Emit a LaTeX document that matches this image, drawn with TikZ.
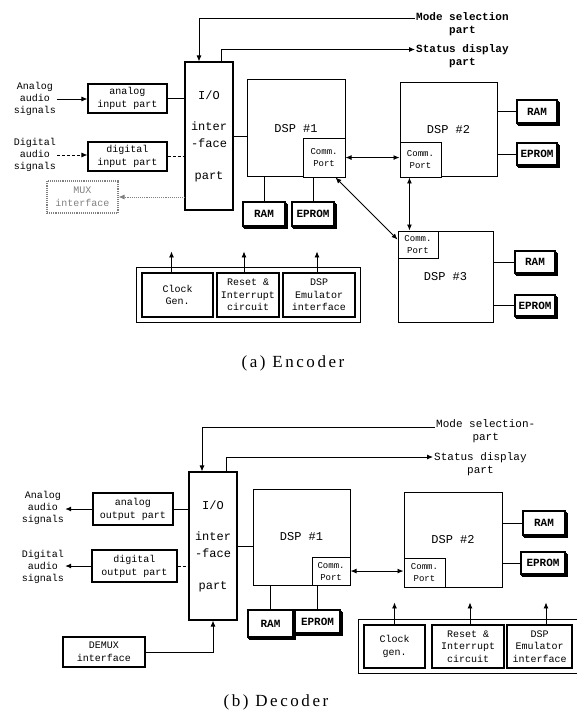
\documentclass[tikz,border=0pt]{standalone}
\usepackage{fontspec}
\setmonofont{Liberation Mono}
\newfontfamily\capfont[LetterSpace=15]{Liberation Serif}
\usetikzlibrary{shadows,fit,arrows.meta}

\tikzset{
  blk/.style={draw, line width=1.1pt, align=center, inner sep=1pt, font=\fontsize{10}{13}\selectfont\ttfamily},
  io/.style={draw, line width=1.1pt, minimum width=48pt, minimum height=148pt, align=center, font=\fontsize{12}{17}\selectfont\ttfamily},
  dsp/.style={draw, line width=1pt, font=\fontsize{12}{14}\selectfont\ttfamily},
  port/.style={draw, line width=0.9pt, fill=white, align=center, inner sep=1pt, font=\fontsize{9}{12}\selectfont\ttfamily},
  mem/.style={draw, line width=1.1pt, fill=white, inner sep=1pt, double copy shadow={shadow xshift=1pt, shadow yshift=-1.3pt}, font=\fontsize{11}{13}\selectfont\ttfamily\bfseries},
  ctl/.style={blk, minimum height=44pt, font=\fontsize{10}{12.5}\selectfont\ttfamily},
  brd/.style={draw, line width=1pt, inner sep=5pt},
  sig/.style={align=center, inner sep=1pt, font=\fontsize{10}{12}\selectfont\ttfamily},
  lbl/.style={align=center, inner sep=1pt, font=\fontsize{11}{13}\selectfont\ttfamily},
  captxt/.style={font=\capfont\fontsize{17}{20}\selectfont},
}

\begin{document}
\begin{tikzpicture}[x=1pt, y=-1pt, >={Latex[length=6pt,width=5pt]}]
  \useasboundingbox (0,0) rectangle (577,714);

  % ---------- (a) Encoder ----------
  % I/O interface part
  \node[io] (io1) at (209,136) {I/O\\[14pt]inter\\-face\\[15pt]part};

  % Input parts and signals
  \node[blk, minimum width=79pt, minimum height=29pt] (an1) at (127.5,98.5) {analog\\input part};
  \node[blk, minimum width=79pt, minimum height=29pt] (dg1) at (127.5,156.5) {digital\\input part};
  \node[blk, densely dotted, gray, minimum width=71pt, minimum height=32pt] (mux1) at (82.5,197) {MUX\\interface};
  \node[sig] (asig1) at (35,99) {Analog\\audio\\signals};
  \node[sig] (dsig1) at (35,155) {Digital\\audio\\signals};

  \draw[->, line width=0.9pt] (asig1.east) -- (asig1.east -| an1.west);
  \draw[->, densely dashed, line width=0.9pt] (dsig1.east) -- (dsig1.east -| dg1.west);
  \draw[line width=0.9pt] (an1.east) -- (an1.east -| io1.west);
  \draw[densely dashed, line width=0.9pt] (dg1.east) -- (dg1.east -| io1.west);
  \draw[->, densely dotted, gray, line width=0.9pt] (mux1.east -| io1.west) -- (mux1.east);

  % Mode selection and status display
  \node[lbl, anchor=west, font=\fontsize{11}{13}\selectfont\ttfamily\bfseries] (mode1) at (415,24) {Mode selection\\part};
  \node[lbl, anchor=west, font=\fontsize{11}{13}\selectfont\ttfamily\bfseries] (stat1) at (415,56) {Status display\\part};
  \draw[<-, line width=0.9pt] ([xshift=-10pt]io1.north) |- ([yshift=6pt]mode1.west);
  \draw[->, line width=0.9pt] ([xshift=12pt]io1.north) |- ([yshift=6.5pt]stat1.west);

  % DSPs with comm. ports
  \node[dsp, minimum width=98pt, minimum height=97pt] (dsp1) at (296,128.5) {DSP \#1};
  \node[port, anchor=south east, minimum width=42pt, minimum height=39pt] (cp1) at (dsp1.south east) {Comm.\\Port};
  \node[dsp, minimum width=97pt, minimum height=94pt] (dsp2) at (448.5,130) {DSP \#2};
  \node[port, anchor=south west, minimum width=41pt, minimum height=35pt] (cp2) at (dsp2.south west) {Comm.\\Port};
  \node[dsp, minimum width=95pt, minimum height=91pt] (dsp3) at (445.5,276.5) {DSP \#3};
  \node[port, anchor=north west, minimum width=40pt, minimum height=27pt] (cp3) at (dsp3.north west) {Comm.\\Port};

  \draw[line width=0.9pt] (io1.east) -- (io1.east -| dsp1.west);
  \draw[<->, line width=0.9pt] (cp1.east) -- (cp1.east -| cp2.west);
  \draw[<->, line width=0.9pt] ([xshift=-11pt]cp2.south) -- ([xshift=-11pt]cp2.south |- cp3.north);
  \draw[<->, line width=0.9pt] ([xshift=-10pt]cp1.south east) -- ([yshift=-9pt]cp3.north west);

  % Memories
  \node[mem, minimum width=42pt, minimum height=24pt] (ram1) at (264,214) {RAM};
  \node[mem, minimum width=42pt, minimum height=24pt] (ep1) at (313,214) {EPROM};
  \node[mem, minimum width=40pt, minimum height=23pt] (ram2) at (537,111.5) {RAM};
  \node[mem, minimum width=40pt, minimum height=22pt] (ep2) at (537,154) {EPROM};
  \node[mem, minimum width=40pt, minimum height=22pt] (ram3) at (535,262) {RAM};
  \node[mem, minimum width=40pt, minimum height=21pt] (ep3) at (535,305.5) {EPROM};

  \draw[line width=0.9pt] (ram1.north) -- (ram1.north |- dsp1.south);
  \draw[line width=0.9pt] (ep1.north) -- (ep1.north |- cp1.south);
  \draw[line width=0.9pt] (ram2.west) -- (ram2.west -| dsp2.east);
  \draw[line width=0.9pt] (ep2.west) -- (ep2.west -| dsp2.east);
  \draw[line width=0.9pt] (ram3.west) -- (ram3.west -| dsp3.east);
  \draw[line width=0.9pt] (ep3.west) -- (ep3.west -| dsp3.east);

  % Clock, reset and emulator board
  \node[ctl, minimum width=71pt] (clk1) at (177.5,295) {Clock\\Gen.};
  \node[ctl, minimum width=62pt] (rst1) at (248,295) {Reset \&\\Interrupt\\circuit};
  \node[ctl, minimum width=72pt] (emu1) at (319,295) {DSP\\Emulator\\interface};
  \node[brd, fit=(clk1)(rst1)(emu1)] (brd1) {};
  \draw[->, line width=0.9pt] ([xshift=-6pt]clk1.north) -- ++(0,-21);
  \draw[->, line width=0.9pt] ([xshift=-4pt]rst1.north) -- ++(0,-21);
  \draw[->, line width=0.9pt] ([xshift=-2pt]emu1.north) -- ++(0,-21);

  \node[captxt] (capa) at (293,363) {(a) Encoder};

  % ---------- (b) Decoder ----------
  % I/O interface part
  \node[io] (io2) at (213,546) {I/O\\[14pt]inter\\-face\\[15pt]part};

  % Output parts and signals
  \node[blk, minimum width=80pt, minimum height=32pt] (an2) at (133,509) {analog\\output part};
  \node[blk, minimum width=85pt, minimum height=32pt] (dg2) at (134.5,566) {digital\\output part};
  \node[blk, minimum width=82pt, minimum height=30pt] (demux2) at (104,652) {DEMUX\\interface};
  \node[sig] (asig2) at (43,508) {Analog\\audio\\signals};
  \node[sig] (dsig2) at (43,567) {Digital\\audio\\signals};

  \draw[->, line width=0.9pt] (an2.west) -- (an2.west -| asig2.east);
  \draw[->, line width=0.9pt] (dg2.west) -- (dg2.west -| dsig2.east);
  \draw[line width=0.9pt] (an2.east) -- (an2.east -| io2.west);
  \draw[densely dashed, line width=0.9pt] (dg2.east) -- (dg2.east -| io2.west);
  \draw[->, line width=0.9pt] (demux2.east) -| (io2.south);

  % Mode selection and status display
  \node[lbl, anchor=west] (mode2) at (435,431) {Mode selection-\\part};
  \node[lbl, anchor=west] (stat2) at (433,464) {Status display\\part};
  \draw[<-, line width=0.9pt] ([xshift=-11pt]io2.north) |- ([yshift=4pt]mode2.west);
  \draw[->, line width=0.9pt] ([xshift=13pt]io2.north) |- ([yshift=7pt]stat2.west);

  % DSPs with comm. ports
  \node[dsp, minimum width=97pt, minimum height=96pt] (dspd1) at (301.5,537) {DSP \#1};
  \node[port, anchor=south east, minimum width=38pt, minimum height=28pt] (cpd1) at (dspd1.south east) {Comm.\\Port};
  \node[dsp, minimum width=98pt, minimum height=95pt] (dspd2) at (453,539.5) {DSP \#2};
  \node[port, anchor=south west, minimum width=41pt, minimum height=29pt] (cpd2) at (dspd2.south west) {Comm.\\Port};

  \draw[line width=0.9pt] (io2.east) -- (io2.east -| dspd1.west);
  \draw[<->, line width=0.9pt] (cpd1.east) -- (cpd1.east -| cpd2.west);

  % Memories
  \node[mem, minimum width=45pt, minimum height=27pt] (ramd1) at (270.5,623.5) {RAM};
  \node[mem, minimum width=45pt, minimum height=23pt] (epd1) at (317.5,621.5) {EPROM};
  \node[mem, minimum width=42pt, minimum height=24pt] (ramd2) at (544,523) {RAM};
  \node[mem, minimum width=44pt, minimum height=22pt] (epd2) at (543,563) {EPROM};

  \draw[line width=0.9pt] (ramd1.north) -- (ramd1.north |- dspd1.south);
  \draw[line width=0.9pt] (epd1.north) -- (epd1.north |- cpd1.south);
  \draw[line width=0.9pt] (ramd2.west) -- (ramd2.west -| dspd2.east);
  \draw[line width=0.9pt] (epd2.west) -- (epd2.west -| dspd2.east);

  % Clock, reset and emulator board
  \node[ctl, minimum width=61pt, minimum height=43pt] (clkd) at (394.5,646.5) {Clock\\gen.};
  \node[ctl, minimum width=72pt, minimum height=43pt] (rstd) at (468,646.5) {Reset \&\\Interrupt\\circuit};
  \node[ctl, minimum width=65pt, minimum height=43pt] (emud) at (539.5,646.5) {DSP\\Emulator\\interface};
  \node[brd, inner sep=4.5pt, fit=(clkd)(rstd)(emud)] (brd2) {};
  \draw[->, line width=0.9pt] (clkd.north) -- ++(0,-22);
  \draw[->, line width=0.9pt] ([xshift=2pt]rstd.north) -- ++(0,-22);
  \draw[->, line width=0.9pt] ([xshift=6.5pt]emud.north) -- ++(0,-22);

  \node[captxt] (capb) at (276,702) {(b) Decoder};
\end{tikzpicture}
\end{document}
